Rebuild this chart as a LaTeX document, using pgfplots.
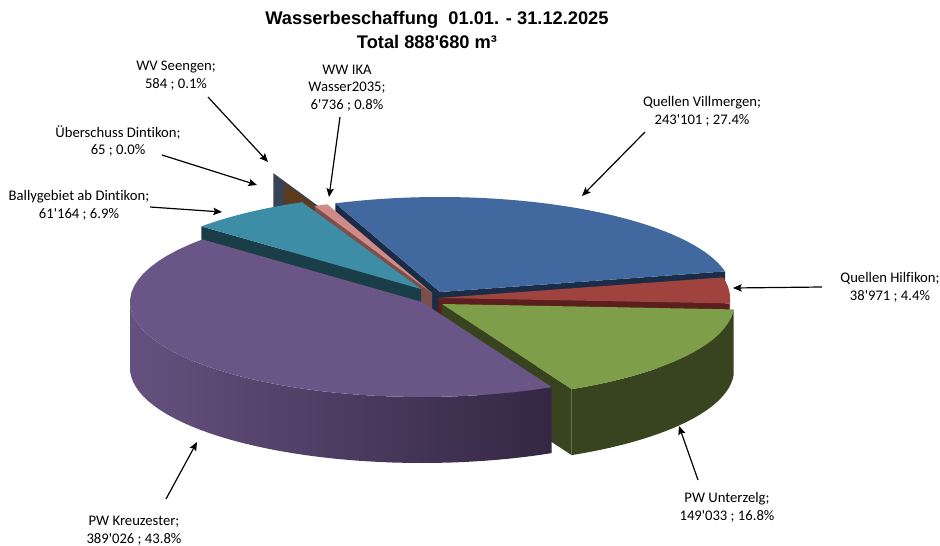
\documentclass[border=0pt]{standalone}
\usepackage{fontspec}
\usepackage{pgfplots}
\pgfplotsset{compat=1.18}
\usetikzlibrary{arrows.meta}
\newfontfamily\lblfont{Carlito}[Ligatures={NoCommon}]
\newfontfamily\ttlfont{Liberation Sans}
\def\q{\textquotesingle}

% ---- data (m3) ----
\def\vV{243101}  % Quellen Villmergen
\def\vH{38971}   % Quellen Hilfikon
\def\vU{149033}  % PW Unterzelg
\def\vK{389026}  % PW Kreuzester
\def\vB{61164}   % Ballygebiet ab Dintikon
\def\vUe{65}     % Ueberschuss Dintikon
\def\vS{584}     % WV Seengen
\def\vI{6736}    % WW IKA Wasser2035

\edef\tot{\fpeval{\vV+\vH+\vU+\vK+\vB+\vUe+\vS+\vI}}
% cumulative angles, clockwise from first slice angle 111 deg
\edef\cA{111}
\edef\cB{\fpeval{round(\cA-\vV*360/\tot,4)}}
\edef\cC{\fpeval{round(\cB-\vH*360/\tot,4)}}
\edef\cD{\fpeval{round(\cC-\vU*360/\tot,4)}}
\edef\cE{\fpeval{round(\cD-\vK*360/\tot,4)}}
\edef\cF{\fpeval{round(\cE-\vB*360/\tot,4)}}
\edef\cG{\fpeval{round(\cF-\vUe*360/\tot,4)}}
\edef\cH{\fpeval{round(\cG-\vS*360/\tot,4)}}
\edef\cI{\fpeval{round(\cH-\vI*360/\tot,4)}}
% shifted to positive range for the last slices
\edef\pE{\fpeval{\cE+360}}
\edef\pF{\fpeval{\cF+360}}
\edef\pG{\fpeval{\cG+360}}
\edef\pH{\fpeval{\cH+360}}
\edef\pI{\fpeval{\cI+360}}

\def\rx{292}\def\ry{95}\def\h{66}

\definecolor{vTop}{HTML}{4169A0}\definecolor{vWall}{HTML}{1B2D46}
\definecolor{hTop}{HTML}{A0433F}\definecolor{hWall}{HTML}{5B201D}
\definecolor{uTop}{HTML}{7F9E49}\definecolor{uWall}{HTML}{38441F}
\definecolor{kTop}{HTML}{6A5587}\definecolor{kwL}{HTML}{65517F}\definecolor{kwR}{HTML}{342743}
\definecolor{bTop}{HTML}{3D8DA6}\definecolor{bWall}{HTML}{1A3E47}
\definecolor{iTop}{HTML}{D08B88}\definecolor{iWall}{HTML}{7C4F4D}
\definecolor{ueWall}{HTML}{5E3B1E}
\definecolor{sWall}{HTML}{3A4256}

% top face of a slice: cx cy t1 t2 colour
\newcommand\SliceTop[5]{\addplot[fill=#5,draw=none,domain=0:41,samples=42]
 ({ifthenelse(x<0.5,(#1),(#1)+\rx*cos((#3)+(x-1)*((#4)-(#3))/40))},
  {ifthenelse(x<0.5,(#2),(#2)-\ry*sin((#3)+(x-1)*((#4)-(#3))/40))});}
% radial wall: cx cy t colour
\newcommand\RadWall[4]{\addplot[fill=#4,draw=none,domain=0:3,samples=4]
 ({(#1)+\rx*cos(#3)*and(x>0.5,x<2.5)},
  {(#2)-\ry*sin(#3)*and(x>0.5,x<2.5)+\h*(x>1.5)});}
% outer wall: cx cy t1 t2 fill options
\newcommand\OutWall[5]{\addplot[#5,draw=none,domain=0:81,samples=82]
 ({(#1)+\rx*cos(ifthenelse(x<40.5,(#3)+x*((#4)-(#3))/40,(#4)-(x-41)*((#4)-(#3))/40))},
  {(#2)-\ry*sin(ifthenelse(x<40.5,(#3)+x*((#4)-(#3))/40,(#4)-(x-41)*((#4)-(#3))/40))+\h*(x>40.5)});}

\begin{document}
\begin{tikzpicture}
\begin{axis}[hide axis, scale only axis, width=705pt, height=409.5pt,
  xmin=0, xmax=940, ymin=0, ymax=546, y dir=reverse, clip=false, no markers]
% Quellen Villmergen
\RadWall{440}{292}{\cA}{vWall}
\RadWall{440}{292}{\cB}{vWall}
\SliceTop{440}{292}{\cB}{\cA}{vTop}
% WV Seengen
\RadWall{392}{260}{\pG}{sWall}
% Ueberschuss Dintikon
\RadWall{403}{270}{\pF}{ueWall}
% WW IKA Wasser2035
\RadWall{432}{293}{\pH}{iWall}
\SliceTop{432}{293}{\pI}{\pH}{iTop}
% Ballygebiet ab Dintikon
\RadWall{421}{289}{\pE}{bWall}
\SliceTop{421}{289}{\pF}{\pE}{bTop}
% Quellen Hilfikon
\RadWall{438}{298}{\cC}{hWall}
\OutWall{438}{298}{\cC}{0}{fill=hWall}
\SliceTop{438}{298}{\cC}{\cB}{hTop}
% PW Unterzelg
\RadWall{442}{304}{\cD}{uWall}
\OutWall{442}{304}{\cD}{\cC}{fill=uWall}
\SliceTop{442}{304}{\cD}{\cC}{uTop}
% PW Kreuzester
\OutWall{422}{302}{-180}{\cD}{left color=kwL,right color=kwR}
\SliceTop{422}{302}{\cE}{\cD}{kTop}

% title
\node[font=\ttlfont\bfseries\fontsize{13.7}{16}\selectfont, inner sep=0] at (axis cs:437,20) {Wasserbeschaffung\ \ 01.01. - 31.12.2025};
\node[font=\ttlfont\bfseries\fontsize{13.7}{16}\selectfont, inner sep=0] at (axis cs:427,42) {Total 888\q680 m³};

% labels
\tikzset{lbl/.style={font=\lblfont\fontsize{11}{13.3}\selectfont, align=center, inner sep=0}}
\node[lbl] at (axis cs:702,111) {Quellen Villmergen;\\243\q101 ; 27.4\%};
\node[lbl] at (axis cs:890,287) {Quellen Hilfikon;\\38\q971 ; 4.4\%};
\node[lbl] at (axis cs:727,507) {PW Unterzelg;\\149\q033 ; 16.8\%};
\node[lbl] at (axis cs:134,531) {PW Kreuzester;\\389\q026 ; 43.8\%};
\node[lbl] at (axis cs:79,205) {Ballygebiet ab Dintikon;\\61\q164 ; 6.9\%};
\node[lbl] at (axis cs:118,141) {Überschuss Dintikon;\\65 ; 0.0\%};
\node[lbl] at (axis cs:176,76) {WV Seengen;\\584 ; 0.1\%};
\node[lbl] at (axis cs:347,88) {WW IKA\\Wasser2035;\\6\q736 ; 0.8\%};

% leader arrows
\tikzset{arr/.style={line width=0.9pt, -{Stealth[length=6.5pt,width=5.5pt,inset=1.2pt]}}}
\draw[arr] (axis cs:645,132) -- (axis cs:582,196);
\draw[arr] (axis cs:822,287) -- (axis cs:733,288);
\draw[arr] (axis cs:698,480) -- (axis cs:679,426);
\draw[arr] (axis cs:166,499) -- (axis cs:197,442);
\draw[arr] (axis cs:150,207) -- (axis cs:222,212);
\draw[arr] (axis cs:162,155) -- (axis cs:257,185);
\draw[arr] (axis cs:208,97) -- (axis cs:268,162);
\draw[arr] (axis cs:340,117) -- (axis cs:329,197);
\end{axis}
\pgfresetboundingbox
\path (current axis.south west) rectangle (current axis.north east);
\end{tikzpicture}
\end{document}
